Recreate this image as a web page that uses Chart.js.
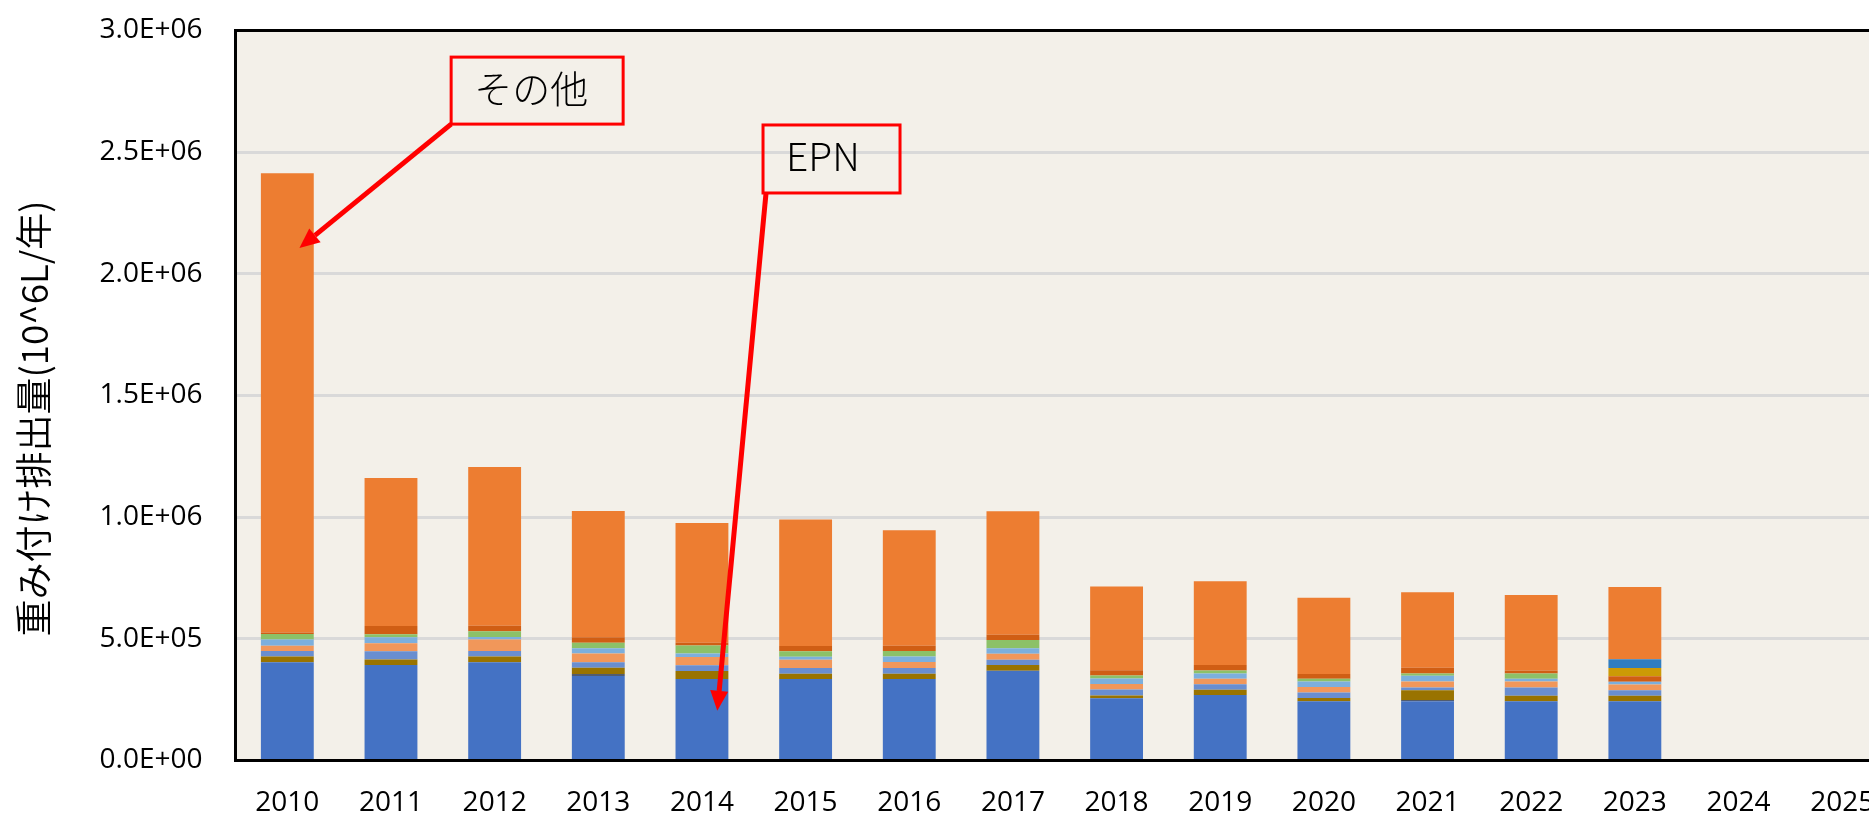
<!DOCTYPE html>
<html>
<head>
<meta charset="utf-8">
<script src="https://cdn.jsdelivr.net/npm/chart.js@4.4.1/dist/chart.umd.min.js"></script>
<style>
  html, body { margin: 0; padding: 0; background: #ffffff; overflow: hidden; }
  #wrap { width: 1920px; height: 815px; }
</style>
</head>
<body>
<div id="wrap"><canvas id="c" width="1920" height="815"></canvas></div>
<script>
// ---- data ----
const years = ['2010','2011','2012','2013','2014','2015','2016','2017','2018','2019','2020','2021','2022','2023','2024','2025'];
const yTickLabels = ['0.0E+00','5.0E+05','1.0E+06','1.5E+06','2.0E+06','2.5E+06','3.0E+06'];
const yTitle = '重み付け排出量(10^6L/年)';

const epn         = [404000,392000,404000,347000,335000,335000,335000,369000,256000,269000,243000,243000,243000,243000,null,null];
const seriesGray  = [0,0,0,8000,0,0,0,0,0,0,0,6000,0,0,null,null];
const seriesOlive = [23000,23000,23000,26000,33000,22000,22000,23000,11000,22000,14000,40000,23000,23000,null,null];
const seriesMBlue = [23000,34000,23000,23000,23000,23000,23000,22000,25000,22000,22000,11000,34000,23000,null,null];
const seriesLOrng = [22000,33000,47000,36000,34000,34000,25000,25000,22000,23000,23000,25000,25000,23000,null,null];
const seriesLBlue = [25000,25000,11000,21000,15000,12000,22000,22000,23000,22000,23000,23000,11000,12000,null,null];
const seriesGreen = [23000,12000,23000,23000,33000,23000,23000,34000,12000,12000,11000,10000,22000,0,null,null];
const seriesDOrng = [6000,34000,23000,23000,11000,22000,22000,22000,22000,22000,19000,23000,12000,22000,null,null];
const seriesGold  = [0,0,0,0,0,0,0,0,0,0,0,0,0,34000,null,null];
const seriesDBlue = [0,0,0,0,0,0,0,0,0,0,0,0,0,36000,null,null];
const others      = [1887000,608000,652000,518000,492000,519000,474000,507000,344000,345000,314000,310000,310000,297000,null,null];

// callouts: label, box centre (category index, value), arrow tip (category index, value)
const calloutLabels = ['その他', 'EPN'];
const calloutBoxX   = [2.41, 5.25];
const calloutBoxY   = [2.753e6, 2.472e6];
const calloutTipX   = [0.117, 4.148];
const calloutTipY   = [2.106e6, 0.204e6];

// ---- styling ----
const boxSize = [[172, 67], [137, 68]];
const startShift = [0, 3];
const calloutFontSize = [38, 39];

function ds(label, data, color) {
  return { label, data, backgroundColor: color, borderWidth: 0,
           barPercentage: 0.51, categoryPercentage: 1.0 };
}
const datasets = [
  ds('EPN', epn, '#4472C4'),
  ds('系列2', seriesGray, '#515C70'),
  ds('系列3', seriesOlive, '#997300'),
  ds('系列4', seriesMBlue, '#698ED0'),
  ds('系列5', seriesLOrng, '#F1975A'),
  ds('系列6', seriesLBlue, '#7CAFDD'),
  ds('系列7', seriesGreen, '#8CC168'),
  ds('系列8', seriesDOrng, '#D05E14'),
  ds('系列9', seriesGold, '#CC9A06'),
  ds('系列10', seriesDBlue, '#2F7DC1'),
  ds('その他', others, '#ED7D31')
];

const tickFont = { family: '"Open Sans", "Liberation Sans", sans-serif', size: 28 };

const plotBg = {
  id: 'plotBg',
  beforeDraw(chart) {
    const { ctx, chartArea: a } = chart;
    ctx.save();
    ctx.fillStyle = '#F3F0E9';
    ctx.fillRect(a.left, a.top, a.right - a.left, a.bottom - a.top);
    ctx.restore();
  }
};

const frameAndText = {
  id: 'frameAndText',
  afterDatasetsDraw(chart) {
    const { ctx, chartArea: a, scales } = chart;
    ctx.save();
    // frame
    ctx.strokeStyle = '#000000';
    ctx.lineWidth = 3;
    ctx.beginPath();
    ctx.moveTo(a.right + 5, a.top);
    ctx.lineTo(a.left, a.top);
    ctx.lineTo(a.left, a.bottom);
    ctx.lineTo(a.right + 5, a.bottom);
    ctx.stroke();

    // callouts
    for (let i = 0; i < calloutLabels.length; i++) {
      const cx = scales.x.getPixelForValue(calloutBoxX[i]);
      const cy = scales.y.getPixelForValue(calloutBoxY[i]);
      const w = boxSize[i][0], h = boxSize[i][1];
      const bx = cx - w / 2, by = cy - h / 2;
      const sx = bx + startShift[i], sy = by + h;
      const tx = scales.x.getPixelForValue(calloutTipX[i]);
      const ty = scales.y.getPixelForValue(calloutTipY[i]);
      const ang = Math.atan2(ty - sy, tx - sx);
      const headLen = 20, headHalf = 9;
      const baseX = tx - headLen * Math.cos(ang), baseY = ty - headLen * Math.sin(ang);
      ctx.strokeStyle = '#FF0000';
      ctx.fillStyle = '#FF0000';
      ctx.lineWidth = 5;
      ctx.beginPath();
      ctx.moveTo(sx, sy);
      ctx.lineTo(baseX, baseY);
      ctx.stroke();
      ctx.beginPath();
      ctx.moveTo(tx, ty);
      ctx.lineTo(baseX + headHalf * Math.sin(ang), baseY - headHalf * Math.cos(ang));
      ctx.lineTo(baseX - headHalf * Math.sin(ang), baseY + headHalf * Math.cos(ang));
      ctx.closePath();
      ctx.fill();
      // box
      ctx.lineWidth = 3;
      ctx.strokeRect(bx, by, w, h);
      ctx.fillStyle = '#000000';
      ctx.font = '300 ' + calloutFontSize[i] + 'px "Noto Sans CJK JP", sans-serif';
      ctx.textAlign = 'left';
      ctx.textBaseline = 'middle';
      ctx.fillText(calloutLabels[i], bx + 23, by + 31);
    }

    // y axis title
    ctx.translate(34, (a.top + a.bottom) / 2 + 23);
    ctx.rotate(-Math.PI / 2);
    ctx.fillStyle = '#000000';
    ctx.font = '350 37px "Noto Sans CJK JP", sans-serif';
    ctx.textAlign = 'center';
    ctx.textBaseline = 'middle';
    ctx.fillText(yTitle, 0, 0);
    ctx.restore();
  }
};

new Chart(document.getElementById('c'), {
  type: 'bar',
  data: { labels: years, datasets },
  options: {
    responsive: false,
    animation: false,
    devicePixelRatio: 1,
    layout: { padding: { left: 0, right: 26, top: 30.5, bottom: 0 } },
    plugins: { legend: { display: false }, tooltip: { enabled: false } },
    scales: {
      x: {
        stacked: true,
        grid: { display: false, drawTicks: false },
        border: { display: false },
        ticks: { font: tickFont, color: '#000000', padding: 26, maxRotation: 0, autoSkip: false },
        afterFit(s) { s.height = 54.5; }
      },
      y: {
        stacked: true,
        min: 0, max: 3000000,
        grid: { color: '#D9D9D9', lineWidth: 3, drawTicks: true, tickLength: 33, tickColor: 'rgba(0,0,0,0)' },
        border: { display: false },
        ticks: {
          stepSize: 500000, font: tickFont, color: '#000000', padding: 0,
          callback: (v, i) => yTickLabels[i]
        },
        afterFit(s) { s.width = 235.5; }
      }
    }
  },
  plugins: [plotBg, frameAndText]
});
</script>
</body>
</html>
